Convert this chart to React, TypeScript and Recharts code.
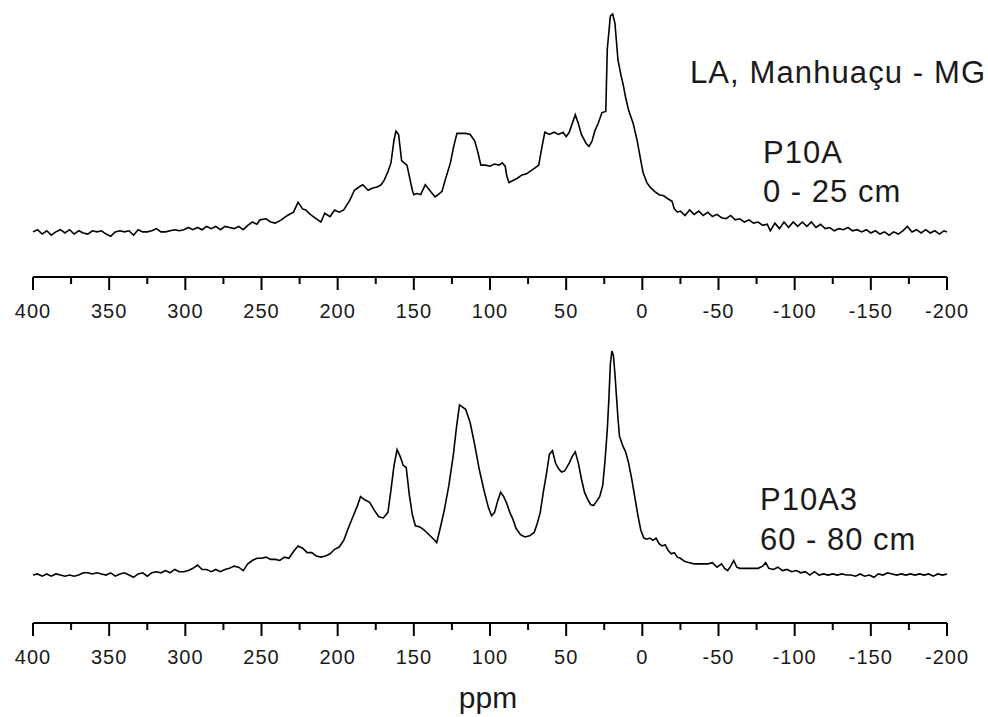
import { LineChart, Line, XAxis, YAxis } from 'recharts';

// 13C CP/MAS NMR spectra, LA Manhuaçu - MG (ppm, relative intensity)
const p10aTrace: [number, number][] = [
  [400, 0.5], [397, 1.5], [394, -0.5], [391, 1], [388, -1], [385, 0.5], [382, 1.5], [379, 0], [376, 1.5],
  [373, -0.5], [370, 1], [367, 0], [364, -0.5], [361, 1], [358, 0.5], [355, 1], [352, -0.5], [349, -1.5],
  [346, 0.5], [343, 1], [340, 0.5], [337, 1], [334, -1], [331, 1.5], [328, 0.5], [325, 0.5], [322, 1],
  [319, 2], [316, 0.5], [313, 0.5], [310, 1], [307, 1.5], [304, 1], [301, 1.5], [298, 2.5], [295, 1.5],
  [292, 2.5], [289, 1.5], [286, 3], [283, 2], [280, 3], [277, 1.5], [274, 3], [271, 2.5], [268, 2],
  [265, 3], [262, 1.5], [259, 3.5], [256, 5], [253, 4], [251, 6], [247, 6.5], [244, 5], [241, 4.5],
  [237, 6], [233, 8], [229, 9.5], [226, 14], [223, 11], [221, 10.5], [218, 8.5], [216, 7.5], [213, 6],
  [211, 5], [208.5, 9], [205, 7.5], [202, 10.5], [199, 9.5], [196, 10.5], [192, 15], [189, 19.5],
  [186, 21], [183.5, 22], [180, 19.5], [177, 20.5], [174, 21], [171.5, 22], [169.5, 24], [167, 28],
  [165, 32], [163, 42.5], [161.7, 46.5], [160, 45], [158, 33], [154.5, 31], [151, 19.5], [150, 17.5],
  [148, 18], [145.5, 17.5], [142.5, 22], [139, 19], [136, 16.5], [134, 17.5], [131.5, 19], [129.5, 24],
  [126, 32], [124, 39], [121.7, 45.5], [119, 45.5], [116, 45.5], [113, 45], [110, 42], [108, 37],
  [106, 31], [103, 31], [100, 30.5], [97, 31.5], [94, 31], [92, 32], [90, 30.5], [89, 26], [87.5, 23],
  [85, 24], [82, 25], [79, 26.5], [76, 27], [73, 28.5], [70, 30], [68, 31], [66, 39], [64, 46],
  [61, 45], [58, 46], [55, 45], [52, 46], [50, 44], [48, 46], [46, 50], [44, 54], [42, 50], [40, 45],
  [37, 41], [35, 39.5], [33, 42], [31, 47], [29, 50], [26.5, 55], [24, 55.5], [23, 84], [21, 99],
  [19.5, 100], [18, 96], [16, 79], [14, 72], [12.5, 67.5], [11, 62], [9, 56], [6, 50], [3.5, 42.5],
  [1, 33], [-0.5, 27.5], [-3, 23], [-5, 21], [-8, 19], [-11, 17.5], [-14, 17], [-17, 15.5],
  [-19.5, 14.5], [-21, 11], [-23, 9.5], [-25, 10], [-28, 8], [-31, 10.5], [-34, 8.5], [-37, 10],
  [-40, 8], [-43, 9.5], [-46, 7.5], [-49, 8.5], [-52, 7], [-55, 6.5], [-58, 8], [-61, 6], [-64, 6.5],
  [-67, 5], [-70, 6], [-73, 4.5], [-76, 5], [-79, 3.5], [-82, 4], [-84, 1], [-87, 4.5], [-90, 2],
  [-93, 5], [-96, 2.5], [-99, 5], [-102, 3], [-105, 5], [-108, 3], [-111, 5], [-114, 2.5], [-117, 4],
  [-120, 2], [-123, 2.5], [-126, 1], [-129, 2], [-132, 1.5], [-135, 2.5], [-138, 1], [-141, 1.5],
  [-144, 0.5], [-147, 1.5], [-150, 0], [-153, 1], [-156, -0.5], [-159, 0.5], [-162, -1], [-165, 0.5],
  [-168, -0.5], [-171, 1], [-174, 3], [-177, 0.5], [-180, 1.5], [-183, 0], [-186, 1.5], [-189, 0],
  [-192, 1], [-195, -0.5], [-198, 1], [-200, 0.5],
];

const p10a3Trace: [number, number][] = [
  [400, 0], [397, 0.5], [394, -0.5], [391, 0.5], [388, -0.5], [385, 0.5], [382, 0], [379, -0.5],
  [376, 0], [373, -0.5], [370, 0], [367, 1], [364, 1], [361, 0.5], [358, 1], [355, 0.5], [352, 0],
  [349, 1], [346, -0.5], [343, 0.5], [340, 1], [337, 0], [334, -1], [331, 0.5], [328, 1], [325, -0.5],
  [322, 1], [319, 1.5], [316, 1], [313, 2], [310, 1], [307, 2.5], [304, 1.5], [301, 1.5], [298, 2],
  [295, 3], [292, 4.5], [289, 2.5], [286, 2.5], [283, 1.5], [280, 2.5], [277, 1.5], [274, 2.5],
  [271, 3], [268, 4], [265, 3.5], [262, 2], [259, 5], [256, 6.5], [253, 7.5], [250, 7.5], [247, 8],
  [244, 7], [241, 7], [238, 6.5], [235, 8], [232, 7.5], [229, 10.5], [226, 13], [223, 12], [220, 10],
  [217, 10], [214, 8.5], [211, 8], [208, 8.5], [205, 9.5], [202, 11.5], [199, 12.5], [196, 15.5],
  [193, 21], [190, 26], [187, 31], [185, 35], [182, 33.5], [179, 32.5], [176, 29], [173, 26],
  [170, 25.5], [167, 28], [165, 38], [163, 49], [161, 56], [159, 53], [157, 49], [155, 48], [153, 36],
  [151, 27], [149, 22], [146, 21.5], [143, 20], [140, 18], [137, 16], [135, 14.5], [133, 20], [130, 29],
  [127, 40], [124, 54], [122, 66], [120, 76], [118, 75], [116, 74], [113, 68], [110, 58], [107, 47],
  [104, 38], [101, 30], [99, 26.5], [97, 28], [95, 33], [93, 37], [91, 35], [89, 32], [87, 28],
  [85, 25], [83, 21], [80, 18], [77, 17], [74, 17.5], [71, 19], [69, 23], [67, 28], [65, 37], [63, 45],
  [61, 54], [59, 55.5], [57, 50], [55, 47.5], [53, 46], [51, 46.5], [48, 50], [46, 53], [44, 55],
  [42, 50], [40, 43], [38, 37], [36, 34], [34, 31.5], [32, 31], [30, 33], [28, 35], [26, 40],
  [24.5, 51], [23, 65], [22, 78], [21, 94], [20, 100], [19, 98], [18, 90], [17, 80], [16, 70], [15, 62],
  [13, 58], [11, 55], [9, 50], [7, 43], [5, 35], [3, 27], [1, 20], [-1, 16.5], [-3, 16], [-5, 16.5],
  [-7, 15.5], [-9, 16.5], [-11, 14], [-13, 13], [-15, 13.5], [-17, 11], [-19, 9.5], [-21, 10], [-23, 8],
  [-25, 7.5], [-28, 6], [-31, 5.5], [-34, 5], [-37, 5], [-40, 5], [-43, 5], [-46, 5.5], [-49, 3.5],
  [-52, 5], [-54, 3], [-56, 2], [-58, 4], [-60, 6.5], [-62, 3.5], [-64, 3], [-67, 3], [-70, 3], [-73, 3],
  [-76, 3], [-79, 4], [-81, 5.5], [-83, 3], [-86, 2.5], [-89, 3.5], [-92, 2], [-95, 2.5], [-98, 1.5],
  [-101, 2], [-104, 1], [-107, 1.5], [-110, 0], [-113, 1.5], [-116, 0], [-119, 0.5], [-122, 0],
  [-125, 0.5], [-128, 0], [-131, 0.5], [-134, 0], [-137, 0], [-140, -0.5], [-143, 0.5], [-146, -0.5],
  [-149, 0], [-152, -1], [-155, 0.5], [-158, 0], [-161, 1], [-164, 0.5], [-167, 0], [-170, 0.5],
  [-173, 0], [-176, 0.5], [-179, 0], [-182, 0.5], [-185, 0], [-188, 0.5], [-191, -0.5], [-194, 0.5],
  [-197, 0], [-200, 0.5],
];

const ppmTicks = [
  400, 375, 350, 325, 300, 275, 250, 225, 200, 175, 150, 125, 100, 75, 50, 25, 0,
  -25, -50, -75, -100, -125, -150, -175, -200,
];

const FONT = '"Liberation Sans", Arial, sans-serif';
const INK = '#1a1a1a';

const topData = p10aTrace.map(([ppm, i]) => ({ ppm, i }));
const bottomData = p10a3Trace.map(([ppm, i]) => ({ ppm, i }));

// major ticks every 50 with a label, minor ticks every 25
function PpmTick({ x, y, payload }: any) {
  const v = payload.value as number;
  const major = v % 50 === 0;
  return (
    <g>
      <line x1={x} x2={x} y1={y} y2={y + (major ? 13 : 7)} stroke="#000" strokeWidth={2} />
      {major && (
        <text x={x} y={y + 41} textAnchor="middle" fontFamily={FONT} fontSize={20} letterSpacing={1} fill={INK}>
          {v}
        </text>
      )}
    </g>
  );
}

function Spectrum({ data, height, axisHeight, domain }: { data: { ppm: number; i: number }[]; height: number; axisHeight: number; domain: [number, number] }) {
  return (
    <LineChart width={988} height={height} data={data} margin={{ top: 0, right: 41, bottom: 0, left: 33 }}>
      <XAxis
        dataKey="ppm"
        type="number"
        domain={[-200, 400]}
        reversed
        ticks={ppmTicks}
        interval={0}
        height={axisHeight}
        tickSize={0}
        tickMargin={0}
        tickLine={false}
        axisLine={{ stroke: '#000', strokeWidth: 2 }}
        tick={<PpmTick />}
      />
      <YAxis hide domain={domain} allowDataOverflow />
      <Line type="linear" dataKey="i" stroke="#000" strokeWidth={1.6} dot={false} isAnimationActive={false} />
    </LineChart>
  );
}

export default function App() {
  return (
    <div style={{ position: 'absolute', left: 0, top: 0, width: 988, height: 717, background: '#fff', overflow: 'hidden' }}>
      <div style={{ position: 'absolute', left: 0, top: 0 }}>
        <Spectrum data={topData} height={330} axisHeight={53} domain={[-20.1, 106.4]} />
      </div>
      <div style={{ position: 'absolute', left: 0, top: 330 }}>
        <Spectrum data={bottomData} height={387} axisHeight={94} domain={[-21.4, 109.4]} />
      </div>
      <svg width={988} height={717} style={{ position: 'absolute', left: 0, top: 0, pointerEvents: 'none' }}>
        <g fontFamily={FONT} fill={INK} fontSize={31}>
          <text x={690} y={83} letterSpacing={1.1}>LA, Manhuaçu - MG</text>
          <text x={763} y={163} letterSpacing={1}>P10A</text>
          <text x={763} y={202} letterSpacing={1}>0 - 25 cm</text>
          <text x={760} y={510} letterSpacing={1}>P10A3</text>
          <text x={760} y={550} letterSpacing={1}>60 - 80 cm</text>
          <text x={488} y={708} textAnchor="middle" fontSize={30}>ppm</text>
        </g>
      </svg>
    </div>
  );
}
